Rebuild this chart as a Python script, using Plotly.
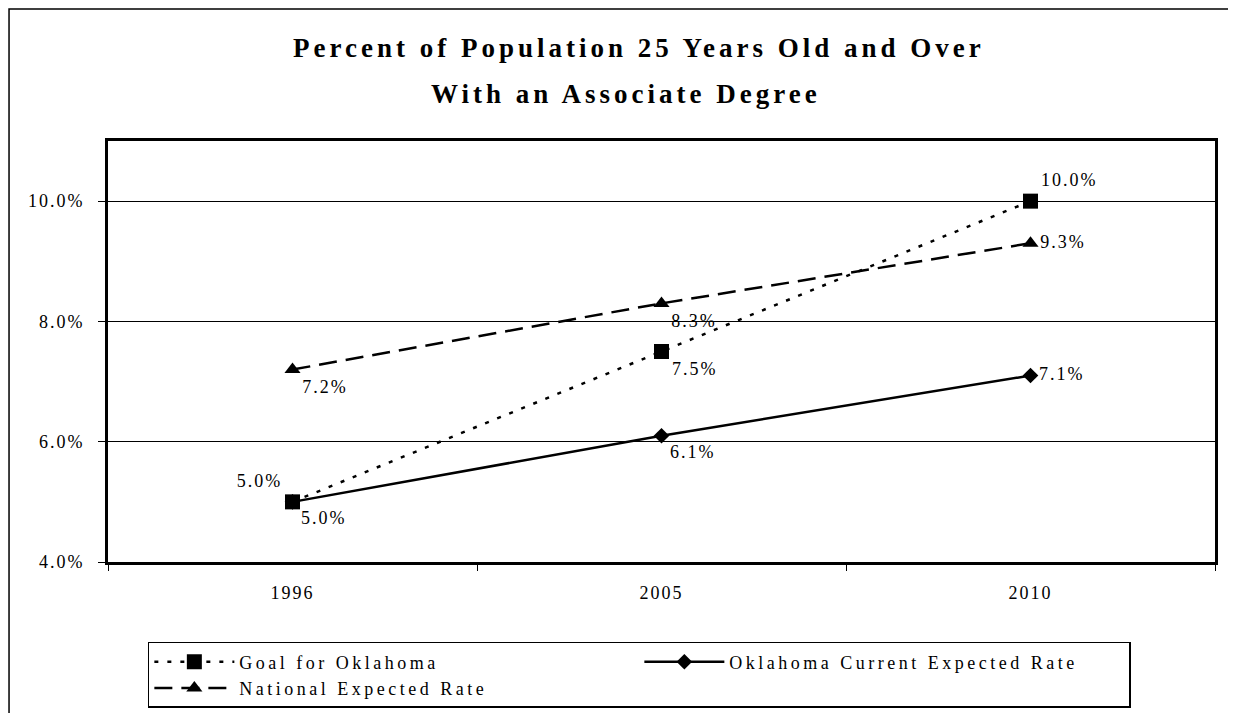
import plotly.graph_objects as go

years = ["1996", "2005", "2010"]
goal = [5.0, 7.5, 10.0]
current = [5.0, 6.1, 7.1]
national = [7.2, 8.3, 9.3]
y_ticks = [4.0, 6.0, 8.0, 10.0]
y_tick_labels = ["4.0%", "6.0%", "8.0%", "10.0%"]
title_lines = ["Percent of Population 25 Years Old and Over", "With an Associate Degree"]

FONT = "Liberation Serif"

def sp(s, px):
    return f'<span style="letter-spacing:{px}px">{s}</span>'

def labels(vals):
    return [sp(f"{v:.1f}%", 2) for v in vals]

fig = go.Figure()
fig.add_trace(go.Scatter(
    x=years, y=current, name=sp("Oklahoma Current Expected Rate", 3.5), mode="lines+markers+text",
    legendrank=2,
    line=dict(color="black", width=2.5),
    marker=dict(symbol="diamond", size=12, color="black"),
    text=labels(current), textposition=["bottom right", "bottom right", "middle right"],
    textfont=dict(family=FONT, size=18, color="black"),
))
fig.add_trace(go.Scatter(
    x=years, y=goal, name=sp("Goal for Oklahoma", 3.5), mode="lines+markers+text",
    legendrank=1,
    line=dict(color="black", width=2.5, dash="4px,9px"),
    marker=dict(symbol="square", size=15, color="black"),
    text=labels(goal), textposition=["top left", "bottom right", "top right"],
    textfont=dict(family=FONT, size=18, color="black"),
))
fig.add_trace(go.Scatter(
    x=years, y=national, name=sp("National Expected Rate", 3.5), mode="lines+markers+text",
    legendrank=3,
    line=dict(color="black", width=2.5, dash="18px,9px"),
    marker=dict(symbol="triangle-up", size=14, color="black"),
    text=labels(national), textposition=["bottom right", "bottom right", "middle right"],
    textfont=dict(family=FONT, size=18, color="black"),
))

# outer frame
fig.add_shape(type="rect", xref="paper", yref="paper",
              x0=-0.0894, x1=1.1, y0=-0.6, y1=1.3135,
              line=dict(color="black", width=1.5), layer="below")

# title lines
fig.add_annotation(text="<b>" + sp(title_lines[0], 4) + "</b>", xref="paper", yref="paper",
                   x=0.4797, y=1.221, showarrow=False, xanchor="center", yanchor="middle",
                   font=dict(family=FONT, size=27, color="black"))
fig.add_annotation(text="<b>" + sp(title_lines[1], 4) + "</b>", xref="paper", yref="paper",
                   x=0.468, y=1.112, showarrow=False, xanchor="center", yanchor="middle",
                   font=dict(family=FONT, size=27, color="black"))

fig.update_layout(
    width=1220, height=705,
    margin=dict(l=100, r=13, t=133, b=151, autoexpand=False),
    paper_bgcolor="white", plot_bgcolor="white",
    font=dict(family=FONT, color="black", size=16),
    showlegend=True,
    legend=dict(
        orientation="h", x=0.036, xanchor="left", y=-0.19, yanchor="top",
        bgcolor="white", bordercolor="black", borderwidth=1.5,
        entrywidth=395, entrywidthmode="pixels", itemwidth=80,
        font=dict(family=FONT, size=18, color="black"),
        traceorder="normal",
    ),
    xaxis=dict(
        type="category", showgrid=False, showline=True, linecolor="black", linewidth=3,
        mirror=True, ticks="outside", tickcolor="black", ticklen=6,
        tickson="boundaries", ticklabelstandoff=12,
        tickfont=dict(family=FONT, size=18, color="black"),
        tickvals=years, ticktext=[sp(y, 2) for y in years],
        range=[-0.5, 2.5],
    ),
    yaxis=dict(
        range=[4, 11], tickvals=y_ticks, ticktext=[sp(t, 2) for t in y_tick_labels],
        showgrid=True, gridcolor="black", gridwidth=1.3,
        showline=True, linecolor="black", linewidth=3, mirror=True,
        ticks="outside", tickcolor="black", ticklen=7, ticklabelstandoff=10,
        tickfont=dict(family=FONT, size=18, color="black"), zeroline=False,
    ),
)

fig.write_html("out.html")
